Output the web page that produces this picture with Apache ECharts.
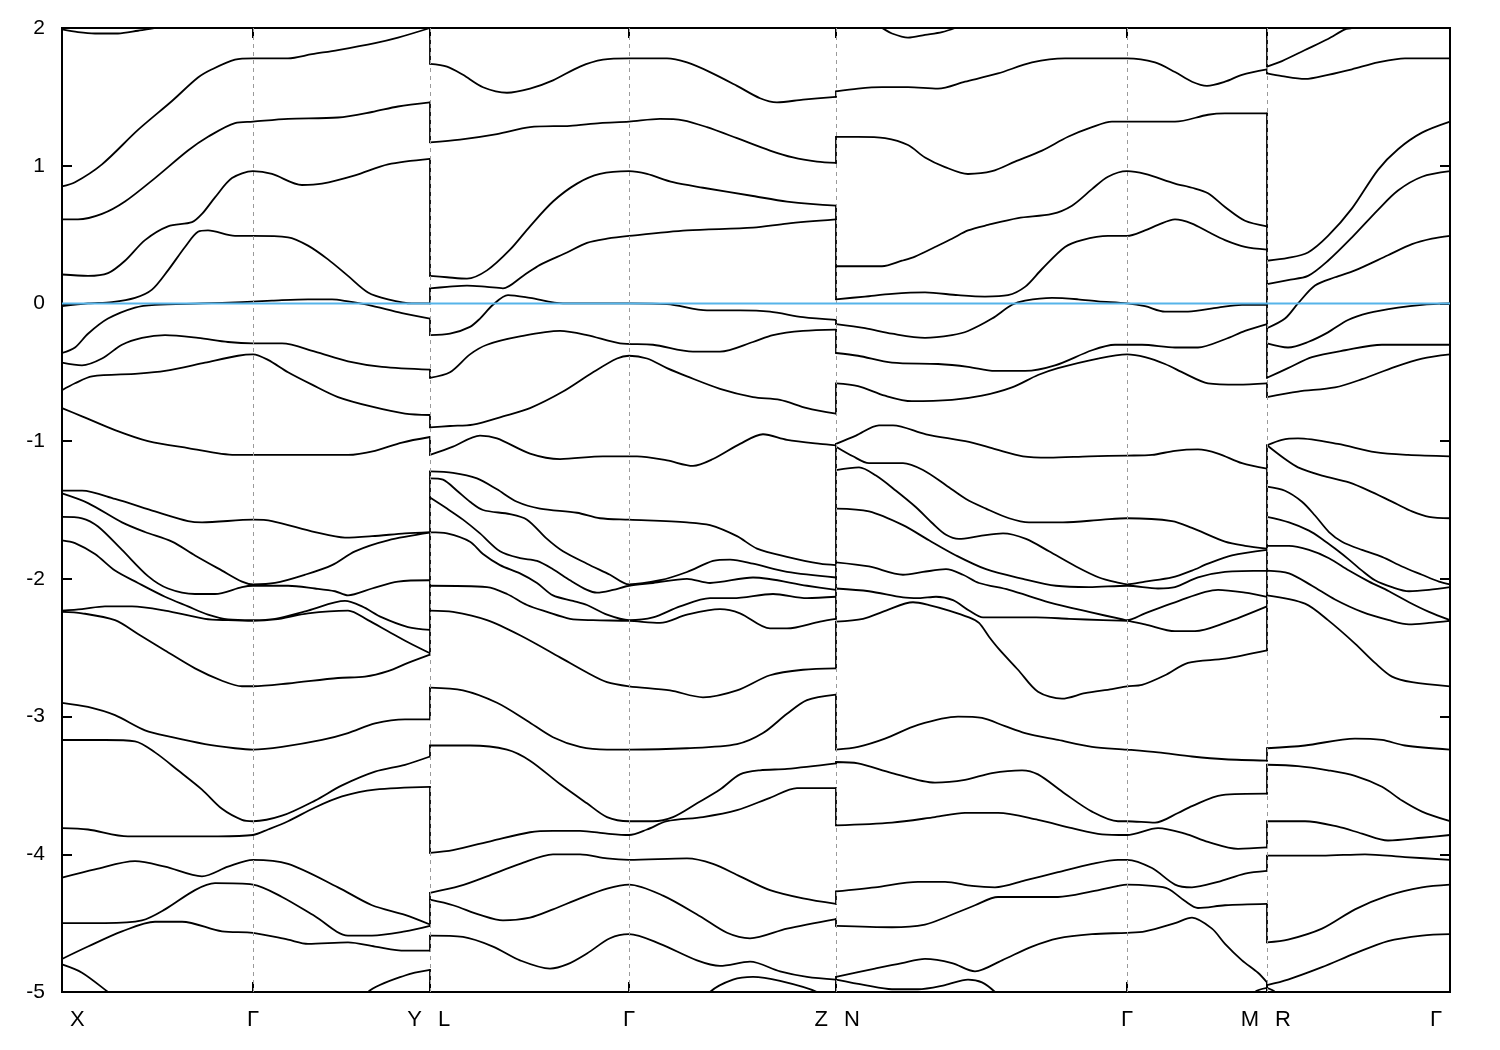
<!DOCTYPE html>
<html>
<head>
<meta charset="utf-8">
<script src="https://cdn.jsdelivr.net/npm/echarts@6/dist/echarts.min.js"></script>
<style>
html,body{margin:0;padding:0;background:#fff;}
#chart{width:1500px;height:1050px;}
</style>
</head>
<body>
<div id="chart"></div>
<script>
// high-symmetry points along the k-path (path coordinate, arbitrary units)
const kTicks = [0, 191, 368, 567, 774, 1065, 1205, 1388];
const tickNames = ['X', 'Γ', 'Y|L', 'Γ', 'Z|N', 'Γ', 'M|R', 'Γ'];
const yTicks = [-5, -4, -3, -2, -1, 0, 1, 2];
const fermiLevel = 0;

// bands: [k, E (eV)]
const bandA = [[0,1.99],[16,1.97],[33,1.96],[56,1.96],[76,1.98],[93,2.0],[140,2.1],[191,2.2],[300,2.25],[368,2.2],
[368,2.15],[567,2.3],[774,2.1],
[774,2.15],[810,2.03],[820,2.0],[830,1.96],[846,1.93],[863,1.95],[880,1.97],[893,2.0],[910,2.05],[1065,2.2],[1205,2.1],
[1205,1.72],[1220,1.76],[1243,1.84],[1266,1.92],[1283,1.99],[1290,2.0],[1320,2.1],[1388,2.3]];

const bandB = [[0,0.85],[13,0.88],[40,1.01],[76,1.26],[110,1.47],[136,1.64],[150,1.70],[173,1.77],[191,1.78],[226,1.78],[250,1.81],[276,1.84],[313,1.89],[336,1.93],[368,2.0],
[368,1.74],[385,1.72],[401,1.66],[421,1.57],[445,1.53],[468,1.56],[491,1.62],[518,1.72],[541,1.77],[567,1.78],[605,1.78],[625,1.75],[648,1.68],[675,1.58],[698,1.49],[715,1.46],[741,1.48],[774,1.50],
[774,1.54],[796,1.56],[820,1.57],[846,1.57],[876,1.56],[903,1.61],[936,1.67],[970,1.75],[1003,1.78],[1030,1.78],[1065,1.78],[1093,1.75],[1113,1.68],[1130,1.61],[1145,1.58],[1163,1.61],[1180,1.66],[1205,1.70],
[1205,1.67],[1220,1.65],[1243,1.63],[1266,1.66],[1290,1.70],[1316,1.75],[1343,1.78],[1388,1.78]];

const bandC = [[0,0.61],[16,0.61],[40,0.65],[63,0.74],[93,0.91],[126,1.11],[146,1.21],[173,1.31],[191,1.32],[226,1.34],[276,1.35],[310,1.39],[336,1.43],[368,1.46],
[368,1.17],[398,1.19],[435,1.23],[468,1.28],[508,1.29],[538,1.31],[567,1.32],[598,1.34],[621,1.33],[645,1.28],[675,1.20],[708,1.11],[731,1.06],[755,1.03],[774,1.02],
[774,1.21],[796,1.21],[823,1.20],[846,1.15],[863,1.06],[883,0.99],[906,0.94],[930,0.96],[953,1.03],[980,1.11],[1006,1.21],[1030,1.28],[1050,1.32],[1065,1.32],[1113,1.32],[1146,1.37],[1163,1.38],[1205,1.38],
[1205,0.31],[1226,0.33],[1246,0.37],[1266,0.49],[1290,0.69],[1316,0.97],[1336,1.12],[1360,1.24],[1388,1.32]];

const bandD = [[0,0.21],[26,0.20],[46,0.22],[63,0.31],[83,0.46],[106,0.56],[130,0.59],[140,0.65],[153,0.77],[170,0.91],[191,0.96],[210,0.94],[240,0.86],[260,0.87],[293,0.93],[326,1.01],[368,1.05],
[368,0.20],[385,0.19],[405,0.18],[425,0.24],[448,0.39],[468,0.56],[491,0.74],[515,0.87],[538,0.94],[567,0.96],[585,0.94],[611,0.88],[641,0.84],[691,0.78],[725,0.74],[774,0.71],
[774,0.27],[796,0.27],[820,0.27],[840,0.31],[853,0.34],[873,0.41],[890,0.47],[906,0.53],[926,0.57],[956,0.62],[990,0.65],[1010,0.71],[1030,0.83],[1046,0.92],[1065,0.96],[1083,0.94],[1113,0.87],[1130,0.84],[1146,0.80],[1163,0.70],[1183,0.60],[1205,0.56],
[1205,0.14],[1226,0.17],[1246,0.20],[1266,0.31],[1290,0.48],[1316,0.68],[1336,0.82],[1360,0.92],[1388,0.96]];

const bandE = [[0,-0.02],[26,0.0],[50,0.01],[73,0.04],[90,0.10],[106,0.24],[123,0.41],[136,0.52],[146,0.53],[173,0.49],[191,0.49],[226,0.48],[246,0.42],[266,0.32],[286,0.20],[306,0.08],[326,0.03],[350,0.0],[368,0.0],
[368,0.11],[385,0.12],[405,0.13],[425,0.12],[441,0.11],[461,0.20],[478,0.28],[505,0.37],[525,0.44],[545,0.47],[567,0.49],[625,0.53],[691,0.55],[725,0.58],[774,0.61],
[774,0.03],[803,0.05],[830,0.07],[863,0.08],[896,0.06],[923,0.05],[946,0.06],[963,0.12],[980,0.25],[1003,0.41],[1020,0.46],[1046,0.49],[1065,0.49],[1083,0.53],[1096,0.57],[1113,0.61],[1130,0.58],[1146,0.52],[1163,0.46],[1183,0.41],[1205,0.39],
[1205,-0.18],[1223,-0.11],[1236,0.0],[1253,0.13],[1273,0.19],[1293,0.24],[1326,0.35],[1350,0.43],[1370,0.47],[1388,0.49]];

const bandF = [[0,-0.36],[13,-0.32],[26,-0.22],[46,-0.11],[73,-0.03],[93,-0.01],[140,0.0],[180,0.01],[210,0.02],[246,0.03],[270,0.03],[286,0.015],[306,-0.01],[340,-0.07],[368,-0.11],
[368,-0.23],[388,-0.22],[408,-0.17],[418,-0.11],[431,-0.01],[446,0.06],[468,0.04],[501,0.0],[567,0.0],[605,-0.005],[645,-0.05],[678,-0.05],[708,-0.06],[741,-0.10],[774,-0.12],
[774,-0.15],[803,-0.18],[830,-0.22],[863,-0.25],[890,-0.23],[906,-0.20],[930,-0.11],[950,-0.01],[963,0.02],[990,0.04],[1016,0.03],[1036,0.015],[1065,0.0],[1083,-0.02],[1103,-0.06],[1126,-0.06],[1156,-0.03],[1180,-0.01],[1205,-0.01],
[1205,-0.29],[1226,-0.32],[1246,-0.28],[1266,-0.21],[1286,-0.12],[1306,-0.07],[1336,-0.03],[1360,-0.01],[1388,0.0]];

const bandG = [[0,-0.43],[20,-0.45],[40,-0.40],[60,-0.30],[80,-0.25],[103,-0.23],[136,-0.25],[166,-0.28],[191,-0.29],[220,-0.29],[253,-0.35],[286,-0.42],[320,-0.46],[368,-0.48],
[368,-0.54],[388,-0.50],[408,-0.37],[425,-0.30],[458,-0.24],[498,-0.20],[525,-0.23],[558,-0.29],[591,-0.30],[631,-0.35],[658,-0.35],[691,-0.28],[711,-0.23],[741,-0.20],[774,-0.19],
[774,-0.36],[796,-0.38],[830,-0.43],[876,-0.44],[906,-0.46],[933,-0.49],[963,-0.49],[993,-0.45],[1030,-0.34],[1053,-0.30],[1080,-0.30],[1113,-0.32],[1136,-0.32],[1163,-0.26],[1183,-0.20],[1205,-0.15],
[1205,-0.54],[1226,-0.47],[1250,-0.39],[1283,-0.34],[1320,-0.30],[1388,-0.30]];

const bandH = [[0,-0.63],[13,-0.58],[30,-0.53],[76,-0.51],[103,-0.49],[143,-0.43],[176,-0.38],[191,-0.37],[206,-0.41],[226,-0.50],[250,-0.59],[276,-0.68],[310,-0.75],[343,-0.80],[368,-0.81],
[368,-0.90],[388,-0.89],[411,-0.88],[441,-0.82],[468,-0.76],[501,-0.64],[531,-0.50],[555,-0.40],[567,-0.38],[585,-0.40],[605,-0.47],[625,-0.53],[658,-0.62],[691,-0.68],[718,-0.70],[745,-0.76],[774,-0.80],
[774,-0.58],[796,-0.60],[823,-0.67],[850,-0.71],[890,-0.70],[920,-0.67],[950,-0.61],[976,-0.52],[996,-0.47],[1036,-0.40],[1065,-0.37],[1083,-0.39],[1103,-0.44],[1123,-0.51],[1146,-0.58],[1176,-0.59],[1205,-0.58],
[1205,-0.68],[1236,-0.64],[1273,-0.61],[1300,-0.55],[1333,-0.46],[1360,-0.40],[1388,-0.37]];

const bandI = [[0,-0.76],[20,-0.82],[53,-0.92],[86,-1.00],[126,-1.05],[173,-1.10],[191,-1.10],[226,-1.10],[286,-1.10],[313,-1.07],[340,-1.01],[368,-0.97],
[368,-1.10],[391,-1.04],[418,-0.96],[435,-0.98],[468,-1.09],[498,-1.13],[541,-1.11],[575,-1.11],[605,-1.14],[631,-1.18],[651,-1.13],[678,-1.02],[701,-0.95],[725,-0.99],[758,-1.02],[774,-1.03],
[774,-1.02],[794,-0.96],[817,-0.885],[831,-0.885],[864,-0.95],[907,-1.005],[934,-1.06],[961,-1.11],[987,-1.12],[1027,-1.11],[1065,-1.105],[1090,-1.10],[1113,-1.07],[1136,-1.06],[1156,-1.09],[1180,-1.16],[1205,-1.20],
[1205,-1.03],[1220,-0.99],[1236,-0.98],[1276,-1.02],[1313,-1.08],[1346,-1.10],[1388,-1.11]];

const bandL1 = [[0,-1.36],[20,-1.36],[53,-1.42],[93,-1.51],[126,-1.58],[140,-1.59],[191,-1.57],[210,-1.58],[253,-1.66],[283,-1.70],[310,-1.69],[343,-1.67],[368,-1.66],
[368,-1.22],[391,-1.23],[415,-1.27],[435,-1.35],[455,-1.44],[478,-1.49],[515,-1.52],[538,-1.56],[567,-1.57],[625,-1.59],[648,-1.61],[675,-1.69],[695,-1.78],[725,-1.84],[758,-1.89],[774,-1.90],
[774,-1.04],[791,-1.11],[807,-1.16],[841,-1.16],[861,-1.21],[884,-1.32],[904,-1.42],[924,-1.49],[947,-1.56],[967,-1.59],[1001,-1.59],[1041,-1.57],[1065,-1.56],[1110,-1.58],[1130,-1.63],[1163,-1.73],[1183,-1.76],[1205,-1.78],
[1205,-1.03],[1223,-1.13],[1236,-1.19],[1260,-1.25],[1287,-1.30],[1310,-1.37],[1333,-1.45],[1350,-1.51],[1367,-1.55],[1388,-1.56]];

const bandL2 = [[0,-1.38],[26,-1.45],[60,-1.59],[83,-1.66],[110,-1.73],[133,-1.83],[160,-1.94],[180,-2.02],[191,-2.04],[213,-2.03],[243,-1.97],[270,-1.90],[293,-1.80],[326,-1.72],[368,-1.665],
[368,-1.27],[381,-1.28],[395,-1.36],[408,-1.44],[421,-1.50],[448,-1.53],[465,-1.57],[485,-1.71],[501,-1.80],[525,-1.89],[548,-1.97],[567,-2.04],[598,-2.01],[625,-1.95],[651,-1.87],[668,-1.86],[691,-1.89],[725,-1.95],[774,-1.99],
[774,-1.21],[797,-1.19],[814,-1.25],[834,-1.36],[854,-1.48],[871,-1.60],[884,-1.68],[897,-1.71],[917,-1.69],[941,-1.67],[964,-1.71],[987,-1.80],[1014,-1.91],[1037,-1.99],[1057,-2.03],[1065,-2.04],[1083,-2.02],[1110,-1.99],[1130,-1.94],[1146,-1.89],[1170,-1.83],[1205,-1.79],
[1205,-1.33],[1223,-1.36],[1240,-1.44],[1253,-1.54],[1267,-1.66],[1280,-1.73],[1300,-1.79],[1320,-1.84],[1340,-1.91],[1360,-1.97],[1377,-2.02],[1388,-2.04]];

const bandL3 = [[0,-1.55],[20,-1.56],[36,-1.62],[60,-1.79],[86,-1.98],[106,-2.07],[133,-2.11],[153,-2.11],[180,-2.06],[191,-2.05],[226,-2.05],[253,-2.07],[273,-2.09],[286,-2.12],[310,-2.07],[336,-2.02],[368,-2.01],
[368,-1.41],[385,-1.49],[401,-1.57],[418,-1.67],[438,-1.80],[458,-1.85],[475,-1.87],[491,-1.93],[508,-2.01],[525,-2.08],[535,-2.10],[551,-2.08],[567,-2.05],[591,-2.03],[625,-2.00],[648,-2.03],[691,-1.99],[745,-2.05],[774,-2.08],
[774,-1.49],[807,-1.51],[841,-1.61],[867,-1.72],[894,-1.83],[924,-1.93],[961,-2.00],[994,-2.05],[1027,-2.06],[1065,-2.05],[1096,-2.07],[1113,-2.06],[1136,-1.99],[1163,-1.95],[1205,-1.94],
[1205,-1.55],[1227,-1.59],[1247,-1.65],[1260,-1.71],[1273,-1.78],[1287,-1.86],[1300,-1.94],[1313,-2.01],[1330,-2.06],[1347,-2.09],[1367,-2.08],[1388,-2.06]];

const bandL4 = [[0,-1.72],[13,-1.74],[33,-1.82],[53,-1.94],[76,-2.03],[103,-2.13],[126,-2.20],[146,-2.26],[166,-2.295],[191,-2.30],[213,-2.29],[246,-2.23],[283,-2.16],[300,-2.20],[320,-2.28],[346,-2.35],[368,-2.37],
[368,-1.66],[385,-1.67],[408,-1.73],[421,-1.82],[438,-1.90],[458,-1.96],[475,-2.03],[491,-2.12],[511,-2.16],[525,-2.19],[545,-2.26],[567,-2.30],[591,-2.28],[618,-2.20],[648,-2.14],[671,-2.14],[711,-2.11],[745,-2.14],[774,-2.13],
[774,-1.88],[807,-1.91],[841,-1.97],[861,-1.95],[884,-1.93],[901,-1.97],[917,-2.03],[947,-2.08],[987,-2.17],[1027,-2.24],[1061,-2.295],[1065,-2.30],[1083,-2.25],[1113,-2.17],[1156,-2.08],[1183,-2.10],[1205,-2.13],
[1205,-1.76],[1227,-1.76],[1247,-1.79],[1267,-1.85],[1287,-1.94],[1307,-2.02],[1327,-2.09],[1347,-2.17],[1367,-2.24],[1388,-2.30]];

const bandL5 = [[0,-2.23],[20,-2.22],[43,-2.20],[70,-2.20],[103,-2.23],[143,-2.29],[166,-2.30],[191,-2.305],[213,-2.295],[246,-2.25],[286,-2.23],[306,-2.30],[326,-2.38],[346,-2.46],[368,-2.54],
[368,-2.05],[425,-2.06],[445,-2.11],[465,-2.19],[485,-2.24],[508,-2.29],[531,-2.30],[567,-2.305],[598,-2.32],[625,-2.26],[658,-2.22],[678,-2.25],[708,-2.36],[725,-2.36],[758,-2.31],[774,-2.29],
[774,-2.07],[807,-2.09],[841,-2.135],[857,-2.14],[874,-2.13],[891,-2.155],[907,-2.23],[921,-2.28],[941,-2.28],[974,-2.28],[1007,-2.29],[1041,-2.30],[1065,-2.305],[1083,-2.33],[1113,-2.38],[1133,-2.38],[1163,-2.32],[1205,-2.20],
[1205,-1.94],[1227,-1.96],[1250,-2.05],[1273,-2.15],[1300,-2.24],[1327,-2.30],[1347,-2.33],[1367,-2.32],[1388,-2.305]];

const bandL6 = [[0,-2.24],[20,-2.25],[53,-2.30],[76,-2.40],[103,-2.52],[133,-2.65],[160,-2.74],[180,-2.78],[191,-2.78],[226,-2.76],[276,-2.72],[303,-2.71],[326,-2.67],[346,-2.61],[368,-2.55],
[368,-2.23],[391,-2.24],[425,-2.30],[458,-2.41],[498,-2.57],[525,-2.68],[545,-2.75],[567,-2.78],[608,-2.81],[641,-2.86],[675,-2.81],[708,-2.70],[741,-2.66],[774,-2.65],
[774,-2.31],[801,-2.29],[824,-2.23],[851,-2.17],[867,-2.19],[887,-2.23],[907,-2.28],[917,-2.32],[927,-2.42],[937,-2.51],[956,-2.66],[976,-2.82],[1000,-2.87],[1023,-2.83],[1050,-2.80],[1065,-2.78],[1080,-2.77],[1103,-2.70],[1126,-2.61],[1163,-2.58],[1205,-2.52],
[1205,-2.12],[1243,-2.18],[1266,-2.30],[1293,-2.47],[1313,-2.61],[1330,-2.71],[1350,-2.75],[1388,-2.78]];

const bandL7 = [[0,-2.90],[26,-2.93],[53,-2.99],[83,-3.10],[110,-3.15],[143,-3.20],[173,-3.23],[191,-3.24],[220,-3.22],[260,-3.17],[286,-3.12],[313,-3.05],[343,-3.02],[368,-3.02],
[368,-2.79],[401,-2.81],[435,-2.90],[465,-3.03],[491,-3.15],[518,-3.22],[545,-3.24],[567,-3.24],[625,-3.23],[675,-3.20],[701,-3.12],[725,-2.98],[745,-2.88],[774,-2.84],
[774,-3.24],[796,-3.22],[823,-3.16],[856,-3.06],[896,-3.00],[920,-3.01],[943,-3.07],[963,-3.12],[996,-3.17],[1030,-3.22],[1065,-3.24],[1096,-3.26],[1130,-3.29],[1163,-3.31],[1205,-3.32],
[1205,-3.23],[1243,-3.21],[1293,-3.16],[1320,-3.17],[1343,-3.21],[1388,-3.24]];

const bandL8 = [[0,-3.17],[43,-3.17],[73,-3.18],[93,-3.26],[116,-3.39],[140,-3.53],[160,-3.67],[180,-3.75],[191,-3.76],[220,-3.72],[253,-3.61],[280,-3.50],[313,-3.40],[343,-3.35],[368,-3.29],
[368,-3.21],[408,-3.21],[445,-3.24],[468,-3.32],[498,-3.49],[525,-3.63],[545,-3.73],[567,-3.76],[591,-3.76],[611,-3.73],[635,-3.63],[658,-3.53],[678,-3.42],[698,-3.39],[725,-3.38],[774,-3.34],
[774,-3.33],[796,-3.34],[830,-3.41],[873,-3.48],[903,-3.46],[930,-3.41],[960,-3.39],[976,-3.42],[1003,-3.56],[1030,-3.69],[1056,-3.76],[1065,-3.76],[1093,-3.77],[1116,-3.70],[1130,-3.65],[1160,-3.57],[1205,-3.56],
[1205,-3.35],[1236,-3.36],[1266,-3.39],[1293,-3.43],[1320,-3.51],[1340,-3.61],[1360,-3.69],[1388,-3.76]];

const bandL9 = [[0,-3.81],[26,-3.82],[66,-3.87],[110,-3.87],[156,-3.87],[191,-3.86],[206,-3.82],[226,-3.76],[253,-3.66],[280,-3.58],[313,-3.53],[368,-3.51],
[368,-3.99],[391,-3.97],[431,-3.90],[468,-3.84],[491,-3.83],[518,-3.83],[545,-3.85],[567,-3.86],[585,-3.82],[605,-3.76],[641,-3.73],[675,-3.68],[708,-3.59],[735,-3.52],[774,-3.52],
[774,-3.79],[830,-3.77],[873,-3.73],[903,-3.70],[936,-3.70],[976,-3.75],[1010,-3.81],[1040,-3.855],[1065,-3.86],[1096,-3.81],[1123,-3.85],[1146,-3.91],[1176,-3.96],[1205,-3.95],
[1205,-3.76],[1243,-3.76],[1276,-3.80],[1300,-3.85],[1326,-3.90],[1360,-3.88],[1388,-3.86]];

const bandL10 = [[0,-4.17],[33,-4.11],[73,-4.05],[103,-4.09],[140,-4.16],[166,-4.09],[191,-4.04],[226,-4.07],[276,-4.24],[310,-4.37],[343,-4.44],[368,-4.51],
[368,-4.28],[398,-4.23],[425,-4.16],[458,-4.07],[491,-4.00],[518,-4.00],[545,-4.03],[567,-4.04],[625,-4.03],[651,-4.07],[678,-4.16],[708,-4.26],[741,-4.32],[774,-4.36],
[774,-4.27],[813,-4.24],[856,-4.20],[883,-4.20],[910,-4.23],[933,-4.24],[963,-4.19],[996,-4.13],[1030,-4.07],[1056,-4.04],[1065,-4.04],[1090,-4.10],[1113,-4.22],[1130,-4.24],[1156,-4.20],[1183,-4.14],[1205,-4.12],
[1205,-4.01],[1260,-4.01],[1303,-4.00],[1343,-4.02],[1388,-4.04]];

const bandL11 = [[0,-4.50],[43,-4.50],[80,-4.48],[103,-4.40],[133,-4.26],[153,-4.21],[191,-4.22],[220,-4.31],[253,-4.45],[286,-4.59],[310,-4.59],[343,-4.56],[368,-4.52],
[368,-4.33],[391,-4.37],[418,-4.44],[441,-4.48],[468,-4.46],[491,-4.40],[518,-4.32],[545,-4.25],[567,-4.22],[601,-4.30],[638,-4.45],[665,-4.57],[688,-4.61],[725,-4.54],[774,-4.47],
[774,-4.52],[830,-4.53],[863,-4.51],[886,-4.45],[913,-4.37],[936,-4.31],[963,-4.31],[996,-4.31],[1030,-4.27],[1056,-4.23],[1065,-4.22],[1090,-4.23],[1106,-4.25],[1123,-4.34],[1136,-4.39],[1163,-4.37],[1205,-4.36],
[1205,-4.64],[1226,-4.62],[1260,-4.54],[1293,-4.40],[1326,-4.30],[1360,-4.24],[1388,-4.22]];

const bandL12 = [[0,-4.76],[26,-4.67],[60,-4.56],[93,-4.49],[120,-4.49],[160,-4.56],[191,-4.57],[226,-4.62],[246,-4.65],[286,-4.64],[313,-4.67],[343,-4.70],[368,-4.70],
[368,-4.59],[401,-4.60],[431,-4.67],[458,-4.77],[488,-4.83],[505,-4.80],[525,-4.72],[548,-4.61],[567,-4.58],[598,-4.65],[635,-4.77],[658,-4.81],[688,-4.78],[718,-4.85],[745,-4.89],[774,-4.91],
[774,-4.89],[813,-4.83],[840,-4.79],[863,-4.76],[890,-4.79],[913,-4.85],[940,-4.77],[970,-4.67],[996,-4.61],[1030,-4.58],[1065,-4.57],[1083,-4.56],[1113,-4.50],[1130,-4.46],[1150,-4.54],[1163,-4.65],[1180,-4.77],[1196,-4.86],[1205,-4.93],
[1205,-4.95],[1226,-4.91],[1260,-4.82],[1293,-4.72],[1326,-4.63],[1360,-4.59],[1388,-4.58]];

const bandL13 = [[0,-4.80],[20,-4.86],[46,-5.0],[100,-5.3],[191,-5.4],[290,-5.2],[306,-5.0],[343,-4.88],[368,-4.84],
[368,-5.2],[450,-5.5],[567,-5.6],[630,-5.2],[648,-5.0],[671,-4.91],[691,-4.89],[718,-4.92],[755,-5.0],[774,-5.1],
[774,-4.91],[803,-4.95],[830,-4.98],[856,-4.98],[883,-4.95],[906,-4.91],[920,-4.93],[933,-5.0],[960,-5.2],[1065,-5.4],[1170,-5.2],[1193,-5.0],[1205,-4.97],
[1205,-4.97],[1213,-5.0],[1250,-5.3],[1388,-5.5]];

const bands = [bandA, bandB, bandC, bandD, bandE, bandF, bandG, bandH, bandI,
  bandL1, bandL2, bandL3, bandL4, bandL5, bandL6, bandL7, bandL8, bandL9, bandL10, bandL11, bandL12, bandL13];

const kMin = kTicks[0], kMax = kTicks[kTicks.length - 1];
const eMin = yTicks[0], eMax = yTicks[yTicks.length - 1];

// split each band at the path discontinuities (repeated k) into smooth pieces,
// and collect the straight vertical jumps between pieces
const GAP = [null, null];
const smoothData = [];
const jumpData = [];
bands.forEach(b => {
  for (let i = 0; i < b.length; i++) {
    if (i > 0 && b[i][0] === b[i - 1][0]) {
      smoothData.push(GAP);
      jumpData.push(b[i - 1], b[i], GAP);
    }
    smoothData.push(b[i]);
  }
  smoothData.push(GAP);
});

const chart = echarts.init(document.getElementById('chart'), null, {renderer: 'canvas'});
const FONT = '"Liberation Sans", Arial, Helvetica, sans-serif';

const xAxisCommon = {
  type: 'value', min: kMin, max: kMax,
  axisLine: {show: true, onZero: false, lineStyle: {color: '#000', width: 2}},
  axisTick: {show: true, inside: true, length: 10, customValues: kTicks, lineStyle: {color: '#000', width: 2}},
  axisLabel: {show: false},
  splitLine: {show: false}
};
const yAxisCommon = {
  type: 'value', min: eMin, max: eMax, interval: 1,
  axisLine: {show: true, onZero: false, lineStyle: {color: '#000', width: 2}},
  axisTick: {show: true, inside: true, length: 10, lineStyle: {color: '#000', width: 2}},
  splitLine: {show: false}
};

const lineStyle = {color: '#000', width: 1.8, join: 'round', cap: 'round'};
const series = [
  {
    type: 'line', data: [], z: 1, silent: true, symbol: 'none',
    markLine: {
      silent: true, symbol: ['none', 'none'], animation: false,
      label: {show: false},
      lineStyle: {color: '#9a9a9a', type: [4, 4], width: 1},
      data: kTicks.slice(1, -1).map(k => ({xAxis: k}))
    }
  },
  {
    name: 'bands', type: 'line', data: smoothData, z: 2,
    showSymbol: false, symbol: 'none', silent: true, clip: true, connectNulls: false,
    smooth: 0.3,
    lineStyle: lineStyle, emphasis: {disabled: true}
  },
  {
    name: 'jumps', type: 'line', data: jumpData, z: 2,
    showSymbol: false, symbol: 'none', silent: true, clip: true, connectNulls: false,
    lineStyle: lineStyle, emphasis: {disabled: true}
  },
  {
    type: 'line', data: [[kMin, fermiLevel], [kMax, fermiLevel]], z: 5,
    showSymbol: false, symbol: 'none', silent: true,
    lineStyle: {color: '#56B4E9', width: 2}
  }
];

chart.setOption({
  animation: false,
  backgroundColor: '#fff',
  grid: {left: 62, right: 50, top: 28, bottom: 58, show: true, borderColor: '#000', borderWidth: 2, backgroundColor: 'transparent'},
  xAxis: [
    Object.assign({position: 'bottom'}, xAxisCommon),
    Object.assign({position: 'top'}, xAxisCommon)
  ],
  yAxis: [
    Object.assign({position: 'left', axisLabel: {show: true, color: '#000', fontSize: 21, fontFamily: FONT, margin: 17}}, yAxisCommon),
    Object.assign({position: 'right', axisLabel: {show: false}}, yAxisCommon)
  ],
  series: series
});

// k-point labels placed through the axis scale
function makeText(t, x, y, align) {
  return {type: 'text', x: x, y: y, silent: true, z: 10,
    style: {text: t, fill: '#000', font: '22px ' + FONT, align: align, verticalAlign: 'middle', textAlign: align, textVerticalAlign: 'middle'}};
}
const labelY = chart.convertToPixel({yAxisIndex: 0}, eMin) + 28;
const gap = 8;
const graphics = [];
tickNames.forEach((name, i) => {
  const x = chart.convertToPixel({xAxisIndex: 0}, kTicks[i]);
  const parts = name.split('|');
  if (parts.length === 2) {
    graphics.push(makeText(parts[0], x - gap, labelY, 'right'));
    graphics.push(makeText(parts[1], x + gap, labelY, 'left'));
  } else if (i === 0) {
    graphics.push(makeText(name, x + gap, labelY, 'left'));
  } else if (i === tickNames.length - 1) {
    graphics.push(makeText(name, x - gap, labelY, 'right'));
  } else {
    graphics.push(makeText(name, x, labelY, 'center'));
  }
});
chart.setOption({graphic: graphics});
</script>
</body>
</html>
